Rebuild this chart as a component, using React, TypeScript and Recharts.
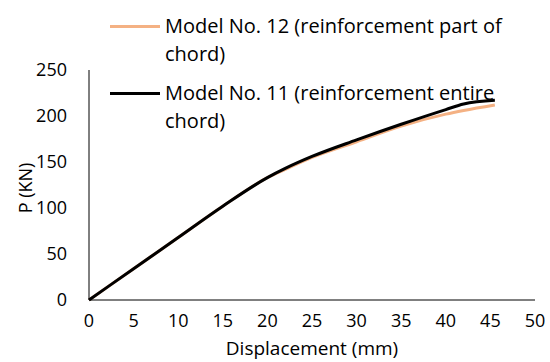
import { LineChart, Line, XAxis, YAxis, Legend, Label } from 'recharts';

const displacement = [0, 5, 10, 15, 20, 22, 25, 30, 35, 40, 42, 45.5];
const model12 = [0, 34, 68, 102, 133, 142, 155, 172, 189, 202, 206, 212];
const model11 = [0, 34, 68, 102, 133, 143, 156, 174, 191, 207, 213, 217];
const xTicks = [0, 5, 10, 15, 20, 25, 30, 35, 40, 45, 50];
const yTicks = [0, 50, 100, 150, 200, 250];

const seriesNames = {
  m12: 'Model No. 12 (reinforcement part of chord)',
  m11: 'Model No. 11 (reinforcement entire chord)',
};
const legendOrder = ['m12', 'm11'];

const data = displacement.map((d, i) => ({ d, m12: model12[i], m11: model11[i] }));

const FONT = '"Open Sans", sans-serif';
const tickFont = 18;
const legendFont = 20;

const LegendBox = ({ payload }: any) => {
  const items = [...(payload || [])].sort(
    (a: any, b: any) => legendOrder.indexOf(a.dataKey) - legendOrder.indexOf(b.dataKey)
  );
  return (
    <div style={{ fontFamily: FONT, fontSize: legendFont, color: '#000', lineHeight: '28px' }}>
      {items.map((p: any) => (
        <div key={p.dataKey} style={{ display: 'flex', alignItems: 'flex-start', marginBottom: 11 }}>
          <div style={{ width: 50, height: 3, background: p.color, marginTop: 13, marginRight: 5, flexShrink: 0 }} />
          <div style={{ width: 350 }}>{p.value}</div>
        </div>
      ))}
    </div>
  );
};

// rotated y-axis title, centred on the plot height
const YTitle = ({ viewBox }: any) => {
  const cx = 25;
  const cy = viewBox.y + viewBox.height / 2 + 3;
  return (
    <text
      x={cx}
      y={cy}
      transform={`rotate(-90, ${cx}, ${cy})`}
      textAnchor="middle"
      dominantBaseline="central"
      fill="#000"
      fontSize={tickFont}
      fontFamily={FONT}
    >
      P (KN)
    </text>
  );
};

export default function App() {
  return (
    <div style={{ position: 'absolute', top: 0, left: 0, background: '#fff' }}>
      <LineChart width={550} height={362} data={data} margin={{ top: 70, right: 15, bottom: 0, left: 0 }}>
        <XAxis
          dataKey="d"
          type="number"
          domain={[0, 50]}
          ticks={xTicks}
          tickLine={false}
          tickSize={0}
          tickMargin={14}
          stroke="#000"
          tick={{ fill: '#000', fontSize: tickFont, fontFamily: FONT }}
          height={62}
        >
          <Label value="Displacement (mm)" position="insideBottom" offset={7} fill="#000" fontSize={19} fontFamily={FONT} />
        </XAxis>
        <YAxis
          type="number"
          domain={[0, 250]}
          ticks={yTicks}
          tickLine={false}
          tickSize={0}
          tickMargin={22}
          stroke="#000"
          tick={{ fill: '#000', fontSize: tickFont, fontFamily: FONT }}
          width={89}
        >
          <Label content={<YTitle />} />
        </YAxis>
        <Legend
          layout="vertical"
          verticalAlign="middle"
          align="center"
          content={<LegendBox />}
          wrapperStyle={{ top: 12, left: 110, width: 430 }}
        />
        <Line dataKey="m12" name={seriesNames.m12} type="monotone" stroke="#F4B183" strokeWidth={3} dot={false} isAnimationActive={false} />
        <Line dataKey="m11" name={seriesNames.m11} type="monotone" stroke="#000" strokeWidth={3} dot={false} isAnimationActive={false} />
      </LineChart>
    </div>
  );
}
